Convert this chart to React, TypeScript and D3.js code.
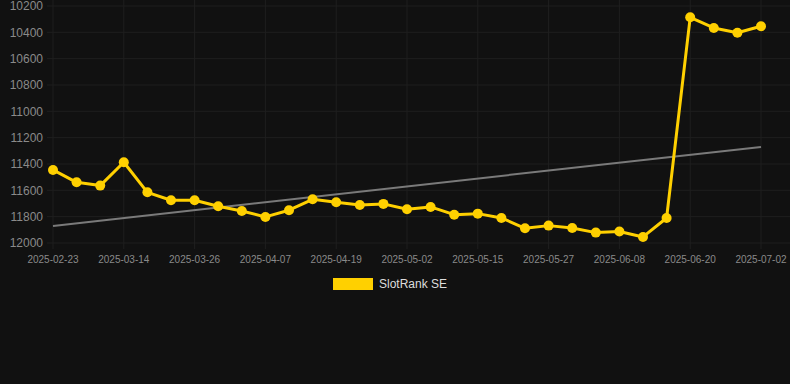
import React from "react";
import * as d3 from "d3";

const dates = [
  "2025-02-23", "2025-03-01", "2025-03-08", "2025-03-14", "2025-03-18", "2025-03-22",
  "2025-03-26", "2025-03-30", "2025-04-03", "2025-04-07", "2025-04-11", "2025-04-15",
  "2025-04-19", "2025-04-23", "2025-04-27", "2025-05-02", "2025-05-06", "2025-05-10",
  "2025-05-15", "2025-05-19", "2025-05-23", "2025-05-27", "2025-05-31", "2025-06-04",
  "2025-06-08", "2025-06-12", "2025-06-16", "2025-06-20", "2025-06-24", "2025-06-28",
  "2025-07-02",
];
const ranks = [
  11445, 11539, 11564, 11387, 11615, 11675, 11675, 11721, 11757, 11802, 11751, 11668,
  11690, 11711, 11703, 11744, 11726, 11785, 11777, 11810, 11888, 11868, 11886, 11921,
  11913, 11954, 11810, 10286, 10367, 10403, 10354,
];
const trendValues = [11870, 11270];
const yTicks = [10200, 10400, 10600, 10800, 11000, 11200, 11400, 11600, 11800, 12000];
const seriesName = "SlotRank SE";

const W = 790;
const H = 384;

export default function App() {
  const x = d3.scalePoint<string>().domain(dates).range([53, 761]);
  const y = d3.scaleLinear().domain([10200, 12000]).range([6, 243]);
  const line = d3
    .line<number>()
    .x((_, i) => x(dates[i]) as number)
    .y((d) => y(d));
  const labelIdx = dates.map((_, i) => i).filter((i) => i % 3 === 0);
  const gold = "#FFD000";
  const grid = "#1f1f1f";
  return (
    <div style={{ position: "absolute", left: 0, top: 0, width: W, height: H, background: "#111111" }}>
      <svg width={W} height={H} style={{ display: "block", fontFamily: "'Liberation Sans', Arial, sans-serif" }}>
        <rect x={0} y={0} width={W} height={H} fill="#111111" />
        {yTicks.map((t) => (
          <g key={t}>
            <line x1={47} x2={790} y1={y(t)} y2={y(t)} stroke={grid} strokeWidth={1} />
            <text x={43} y={y(t)} dy="0.35em" textAnchor="end" fontSize={12} fill="#8a8a8a">
              {t}
            </text>
          </g>
        ))}
        {labelIdx.map((i) => (
          <g key={i}>
            <line x1={x(dates[i])} x2={x(dates[i])} y1={0} y2={249} stroke={grid} strokeWidth={1} />
            <text x={x(dates[i])} y={263} textAnchor="middle" fontSize={10} fill="#8a8a8a">
              {dates[i]}
            </text>
          </g>
        ))}
        <line
          x1={x(dates[0])}
          x2={x(dates[dates.length - 1])}
          y1={y(trendValues[0])}
          y2={y(trendValues[1])}
          stroke="#7a7a7a"
          strokeWidth={2}
        />
        <path d={line(ranks) || ""} fill="none" stroke={gold} strokeWidth={3} strokeLinejoin="round" />
        {ranks.map((v, i) => (
          <circle key={i} cx={x(dates[i])} cy={y(v)} r={5} fill={gold} />
        ))}
        <rect x={333} y={278} width={40} height={12} fill={gold} />
        <text x={379} y={288} fontSize={12} fill="#dddddd">
          {seriesName}
        </text>
      </svg>
    </div>
  );
}
